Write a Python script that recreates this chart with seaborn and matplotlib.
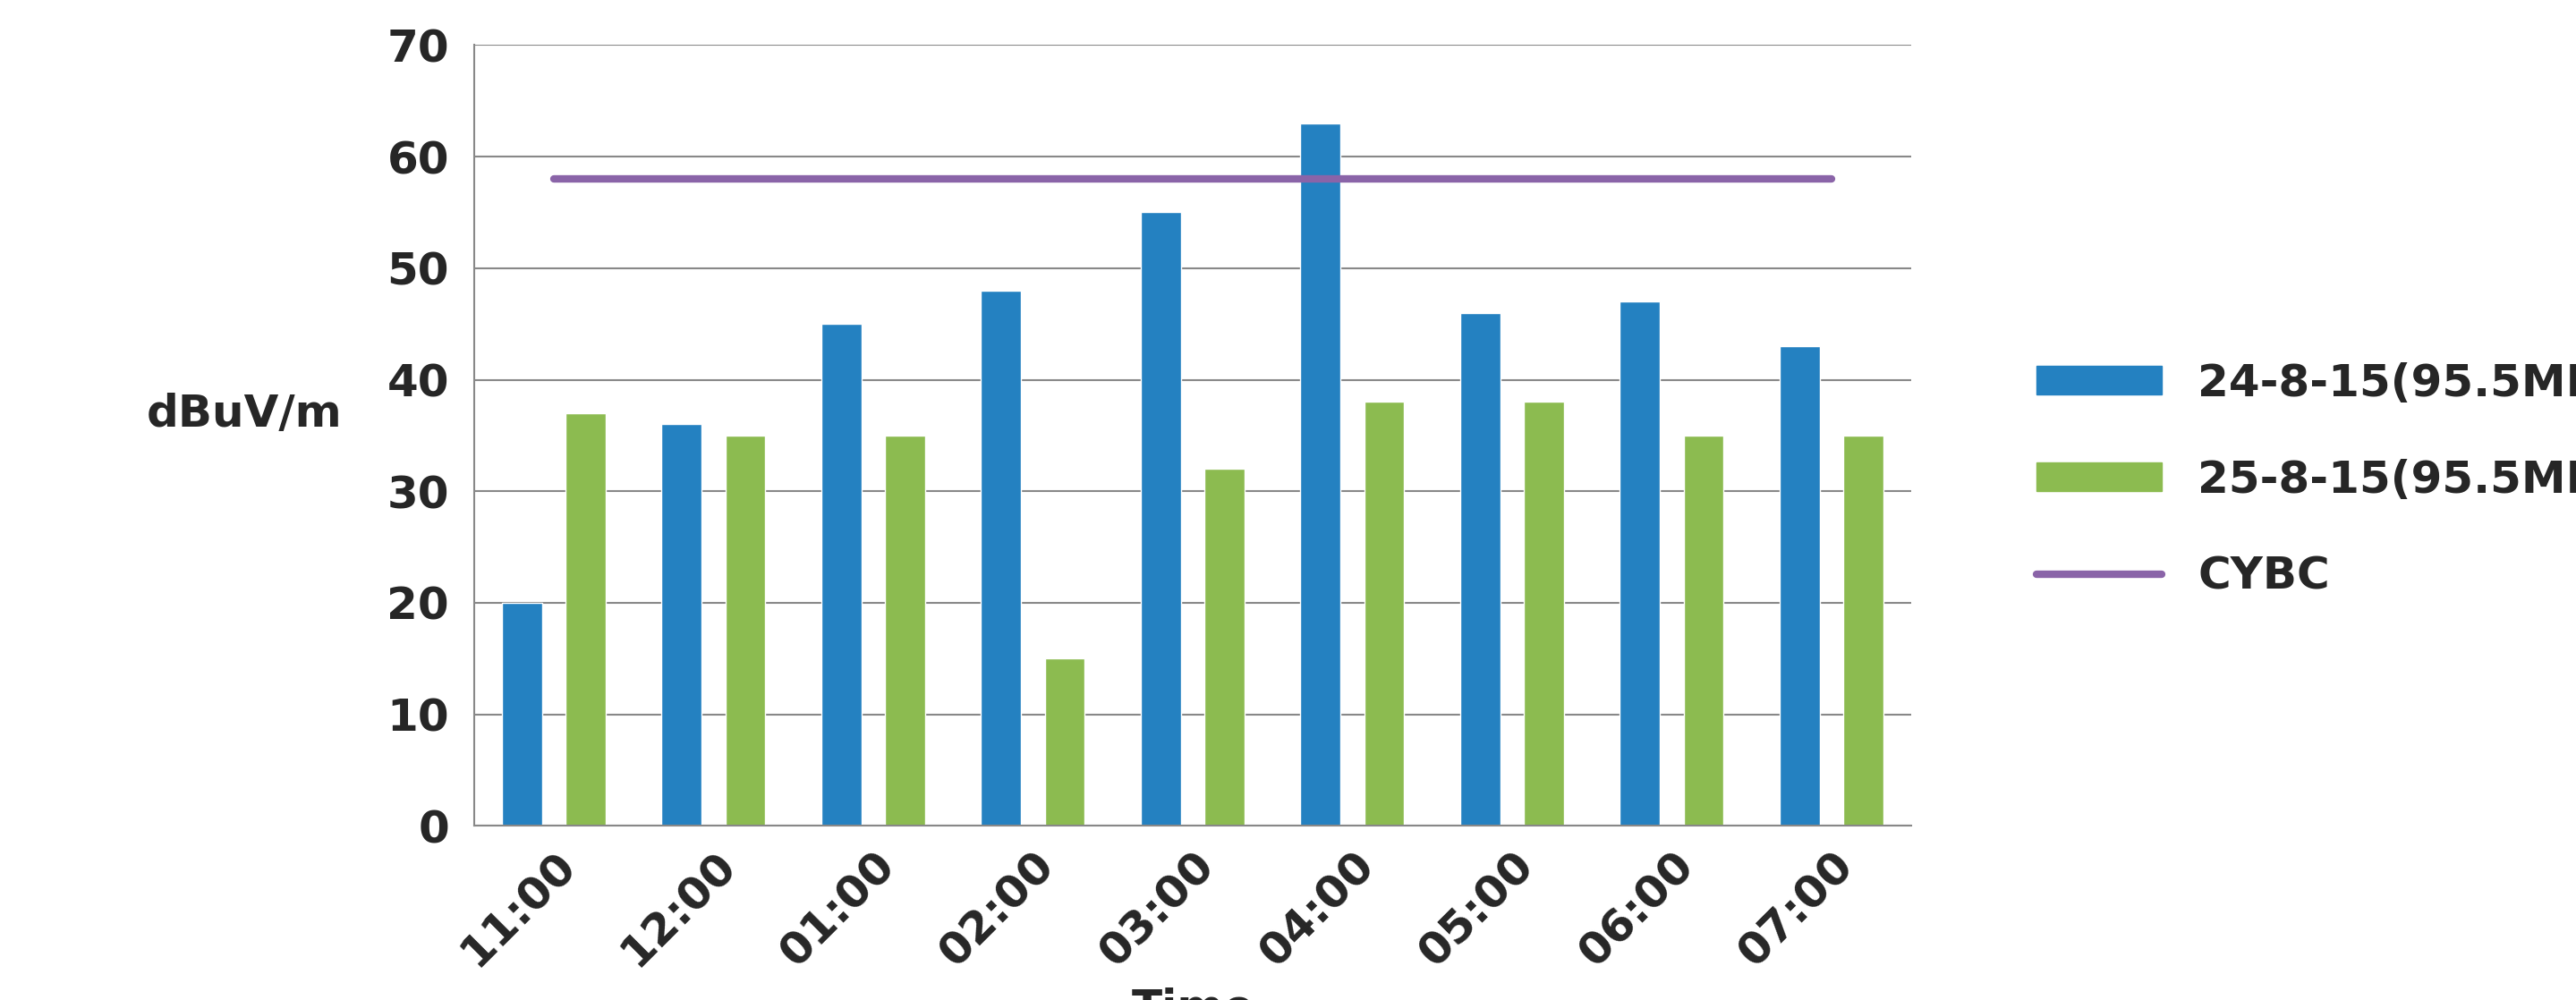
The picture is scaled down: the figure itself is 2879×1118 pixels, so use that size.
import numpy as np
import pandas as pd
import matplotlib
matplotlib.use("Agg")
import matplotlib.pyplot as plt
import seaborn as sns
from matplotlib.lines import Line2D
from matplotlib.patches import Patch

times = ["11:00", "12:00", "01:00", "02:00", "03:00", "04:00", "05:00", "06:00", "07:00"]
day1 = [20, 36, 45, 48, 55, 63, 46, 47, 43]
day2 = [37, 35, 35, 15, 32, 38, 38, 35, 35]
cybc = [58] * len(times)
labels = ["24-8-15(95.5MHz)", "25-8-15(95.5MHz)", "CYBC"]
colors = ["#2481C1", "#8CBB50", "#8A64A8"]

df = pd.DataFrame({
    "time": times * 2,
    "value": day1 + day2,
    "series": [labels[0]] * len(times) + [labels[1]] * len(times),
})

sns.set_style("white")
plt.rcParams["font.family"] = ["DejaVu Sans"]
plt.rcParams["font.weight"] = "bold"
fs = 36

fig = plt.figure(figsize=(28.79, 11.18), dpi=100)
ax = fig.add_axes([0.184, 0.174, 0.558, 0.781])

sns.barplot(data=df, x="time", y="value", hue="series", palette=colors[:2],
            width=0.8, ax=ax, legend=False, saturation=1)
for p in ax.patches:
    c = p.get_x() + p.get_width() / 2
    p.set_width(0.25)
    p.set_x(c - 0.125)

ax.plot(np.arange(len(times)), cybc, color=colors[2], lw=6, solid_capstyle="round")

ax.set_ylim(0, 70)
ax.set_xlim(-0.5, len(times) - 0.5)
ax.set_yticks(range(0, 71, 10))
ax.yaxis.grid(True, color="#888888", lw=1.5)
ax.set_axisbelow(True)
for s in ["top", "right"]:
    ax.spines[s].set_visible(False)
for s in ["left", "bottom"]:
    ax.spines[s].set_color("#888888")
    ax.spines[s].set_linewidth(1.5)

ax.set_xticks(np.arange(len(times)))
ax.set_xticklabels(times, rotation=45, ha="right", rotation_mode="anchor", fontsize=fs, fontweight="bold")
ax.set_xticks(np.arange(-0.5, len(times)), minor=True)
ax.tick_params(axis="x", which="major", length=0, pad=14)
ax.tick_params(axis="x", which="minor", length=10, width=1.5, color="#888888", direction="out")
ax.tick_params(axis="y", labelsize=fs, length=10, width=1.5, color="#888888", direction="out", pad=10)
for t in ax.get_yticklabels():
    t.set_fontweight("bold")

ax.set_xlabel("Time", fontsize=fs, fontweight="bold", labelpad=10)
ax.set_ylabel("dBuV/m", fontsize=fs, fontweight="bold", rotation=0, labelpad=0)
ax.yaxis.set_label_coords(-0.16, 0.5)

handles = [Patch(color=colors[0]), Patch(color=colors[1]),
           Line2D([], [], color=colors[2], lw=6)]
fig.legend(handles, labels, loc="center left", bbox_to_anchor=(0.775, 0.52),
           frameon=False, handlelength=2.8, handleheight=0.6,
           labelspacing=1.2, prop={"weight": "bold", "size": fs})

fig.savefig("out.png", dpi=100)
